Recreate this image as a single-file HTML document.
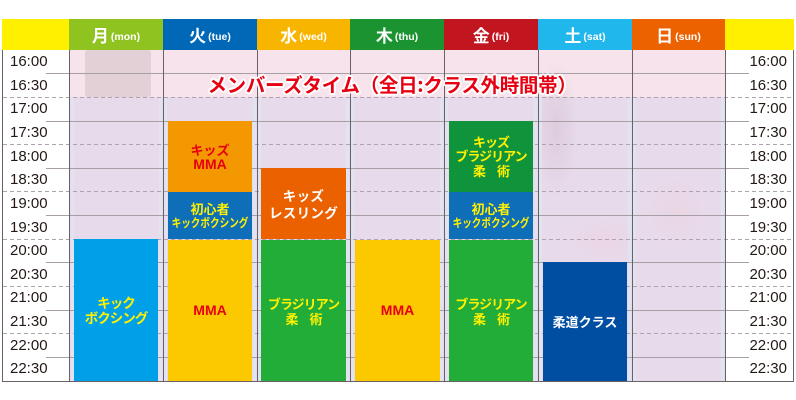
<!DOCTYPE html>
<html><head><meta charset="utf-8">
<style>
*{margin:0;padding:0;box-sizing:border-box}
body{width:796px;height:400px;background:#fff;position:relative;overflow:hidden;font-family:"Liberation Sans","Noto Sans CJK JP",sans-serif}
.a{position:absolute}
.h{position:absolute;top:19px;height:31px;color:#fff;font-weight:bold;display:flex;align-items:center;justify-content:center}
.h b{font-family:"Noto Sans CJK JP",sans-serif;font-size:17px;font-weight:700;line-height:20px}
.h i{font-style:normal;font-size:10.5px;margin-left:2px;margin-top:4px;font-family:"Liberation Sans",sans-serif;font-weight:bold}
.tl{position:absolute;left:10px;width:50px;height:23.64px;line-height:23.64px;font-size:15px;color:#231815}
.tr{position:absolute;right:9px;width:50px;text-align:right;height:23.64px;line-height:23.64px;font-size:15px;color:#231815}
.dash{position:absolute;left:3px;width:791px;height:1px;background:repeating-linear-gradient(90deg,#aea4ae 0 4px,transparent 4px 7px)}
.sol{position:absolute;left:46px;width:703px;height:1px;background:#a79ea6}
.vl{position:absolute;top:50px;width:1px;height:331px;background:#6a6166}
.st{position:absolute;top:97px;width:3px;height:284px;background:#e1e3f1}
.blk{position:absolute;display:flex;flex-direction:column;align-items:center;justify-content:center;font-family:"Noto Sans CJK JP",sans-serif;font-weight:700;font-size:13px;line-height:15px;text-align:center;white-space:nowrap}
.y{color:#fff100}.r{color:#e60012}.w{color:#fff}
.mma{font-family:"Liberation Sans",sans-serif;font-weight:bold;font-size:14px}
.cond{display:inline-block;transform:scaleX(0.8);font-size:12px;line-height:13px}
</style></head><body>

<!-- header -->
<div class="a" style="left:2px;top:19px;width:67px;height:31px;background:#fff000"></div>
<div class="h" style="left:69px;width:94px;background:#8fc31f"><b>月</b><i>(mon)</i></div>
<div class="h" style="left:163px;width:94px;background:#0068b7"><b>火</b><i>(tue)</i></div>
<div class="h" style="left:257px;width:93px;background:#f8b500"><b>水</b><i>(wed)</i></div>
<div class="h" style="left:350px;width:94px;background:#1b9331"><b>木</b><i>(thu)</i></div>
<div class="h" style="left:444px;width:94px;background:#c1161f"><b>金</b><i>(fri)</i></div>
<div class="h" style="left:538px;width:94px;background:#1fb7ec"><b>土</b><i>(sat)</i></div>
<div class="h" style="left:632px;width:93px;background:#ec6200"><b>日</b><i>(sun)</i></div>
<div class="a" style="left:725px;top:19px;width:69px;height:31px;background:#fff000"></div>

<!-- body background -->
<div class="a" style="left:69px;top:50px;width:656px;height:47px;background:#f6e3eb"></div>
<div class="a" style="left:69px;top:97px;width:656px;height:284px;background:#e7dbeb"></div>
<!-- photo-ish blobs -->
<div class="a" style="left:85px;top:50px;width:66px;height:47px;background:#e3d0d7;border-radius:3px"></div>
<div class="a" style="left:540px;top:60px;width:40px;height:140px;background:radial-gradient(ellipse at 40% 50%,rgba(190,150,170,0.22),rgba(190,150,170,0) 70%)"></div>
<div class="a" style="left:565px;top:215px;width:80px;height:50px;background:radial-gradient(ellipse,rgba(240,205,218,0.45),rgba(240,205,218,0) 70%)"></div>
<div class="a" style="left:640px;top:170px;width:70px;height:80px;background:radial-gradient(ellipse,rgba(238,205,218,0.4),rgba(238,205,218,0) 70%)"></div>

<!-- column edge stripes -->
<div class="st" style="left:71px"></div><div class="st" style="left:159px"></div>
<div class="st" style="left:164px"></div><div class="st" style="left:253px"></div>
<div class="st" style="left:258px"></div><div class="st" style="left:346px"></div>
<div class="st" style="left:351px"></div><div class="st" style="left:440px"></div>
<div class="st" style="left:445px"></div><div class="st" style="left:534px"></div>
<div class="st" style="left:539px"></div><div class="st" style="left:628px"></div>
<div class="st" style="left:633px"></div><div class="st" style="left:721px"></div>

<!-- horizontal lines -->
<div class="sol" style="top:73px"></div>
<div class="dash" style="top:97px"></div>
<div class="sol" style="top:121px"></div>
<div class="dash" style="top:144px"></div>
<div class="sol" style="top:168px"></div>
<div class="dash" style="top:191px"></div>
<div class="sol" style="top:215px"></div>
<div class="dash" style="top:239px"></div>
<div class="sol" style="top:262px"></div>
<div class="dash" style="top:286px"></div>
<div class="sol" style="top:310px"></div>
<div class="dash" style="top:333px"></div>
<div class="sol" style="top:357px"></div>

<!-- vertical lines -->
<div class="vl" style="left:2px"></div>
<div class="vl" style="left:69px"></div>
<div class="vl" style="left:163px"></div>
<div class="vl" style="left:257px"></div>
<div class="vl" style="left:350px"></div>
<div class="vl" style="left:444px"></div>
<div class="vl" style="left:538px"></div>
<div class="vl" style="left:632px"></div>
<div class="vl" style="left:725px"></div>
<div class="vl" style="left:793px"></div>
<div class="a" style="left:2px;top:381px;width:792px;height:1px;background:#6a6166"></div>

<!-- time labels -->
<div class="tl" style="top:50px">16:00</div><div class="tr" style="top:50px">16:00</div>
<div class="tl" style="top:73.64px">16:30</div><div class="tr" style="top:73.64px">16:30</div>
<div class="tl" style="top:97.29px">17:00</div><div class="tr" style="top:97.29px">17:00</div>
<div class="tl" style="top:120.93px">17:30</div><div class="tr" style="top:120.93px">17:30</div>
<div class="tl" style="top:144.57px">18:00</div><div class="tr" style="top:144.57px">18:00</div>
<div class="tl" style="top:168.21px">18:30</div><div class="tr" style="top:168.21px">18:30</div>
<div class="tl" style="top:191.86px">19:00</div><div class="tr" style="top:191.86px">19:00</div>
<div class="tl" style="top:215.5px">19:30</div><div class="tr" style="top:215.5px">19:30</div>
<div class="tl" style="top:239.14px">20:00</div><div class="tr" style="top:239.14px">20:00</div>
<div class="tl" style="top:262.79px">20:30</div><div class="tr" style="top:262.79px">20:30</div>
<div class="tl" style="top:286.43px">21:00</div><div class="tr" style="top:286.43px">21:00</div>
<div class="tl" style="top:310.07px">21:30</div><div class="tr" style="top:310.07px">21:30</div>
<div class="tl" style="top:333.71px">22:00</div><div class="tr" style="top:333.71px">22:00</div>
<div class="tl" style="top:357.36px">22:30</div><div class="tr" style="top:357.36px">22:30</div>

<!-- blocks -->
<div class="blk y" style="left:74px;top:239px;width:84px;height:142px;background:#00a0e9;font-size:13.5px;letter-spacing:-1px"><span>キック</span><span>ボクシング</span></div>

<div class="blk r" style="left:168px;top:121px;width:84px;height:71px;background:#f39800"><span>キッズ</span><span class="mma">MMA</span></div>
<div class="blk y" style="left:168px;top:192px;width:84px;height:47px;background:#0e6eb8"><span style="line-height:14px">初心者</span><span class="cond">キックボクシング</span></div>
<div class="blk r" style="left:168px;top:240px;width:84px;height:141px;background:#fcc800"><span class="mma">MMA</span></div>

<div class="blk w" style="left:261px;top:168px;width:85px;height:71px;background:#eb6100;font-size:13.5px;line-height:17px;letter-spacing:0.3px"><span>キッズ</span><span>レスリング</span></div>
<div class="blk y" style="left:261px;top:240px;width:85px;height:141px;background:#22ac38;letter-spacing:-1px"><span>ブラジリアン</span><span>柔　術</span></div>

<div class="blk r" style="left:355px;top:240px;width:85px;height:141px;background:#fcc800"><span class="mma">MMA</span></div>

<div class="blk y" style="left:449px;top:121px;width:84px;height:71px;background:#0f943c;letter-spacing:-1px;line-height:14.5px"><span>キッズ</span><span>ブラジリアン</span><span>柔　術</span></div>
<div class="blk y" style="left:449px;top:192px;width:84px;height:47px;background:#0e6eb8"><span style="line-height:14px">初心者</span><span class="cond">キックボクシング</span></div>
<div class="blk y" style="left:449px;top:240px;width:84px;height:141px;background:#22ac38;letter-spacing:-1px"><span>ブラジリアン</span><span>柔　術</span></div>

<div class="blk w" style="left:543px;top:262px;width:84px;height:119px;background:#004ea2"><span>柔道クラス</span></div>

<!-- title -->
<div class="a" style="left:200px;top:72px;width:384px;text-align:center;font-family:'Noto Sans CJK JP',sans-serif;font-weight:700;font-size:19.5px;line-height:24px;color:#e60012;white-space:nowrap;letter-spacing:-0.3px;text-shadow:2px 0 0 #fff,-2px 0 0 #fff,0 2px 0 #fff,0 -2px 0 #fff,1.5px 1.5px 0 #fff,-1.5px 1.5px 0 #fff,1.5px -1.5px 0 #fff,-1.5px -1.5px 0 #fff">メンバーズタイム（全日:クラス外時間帯）</div>

</body></html>
